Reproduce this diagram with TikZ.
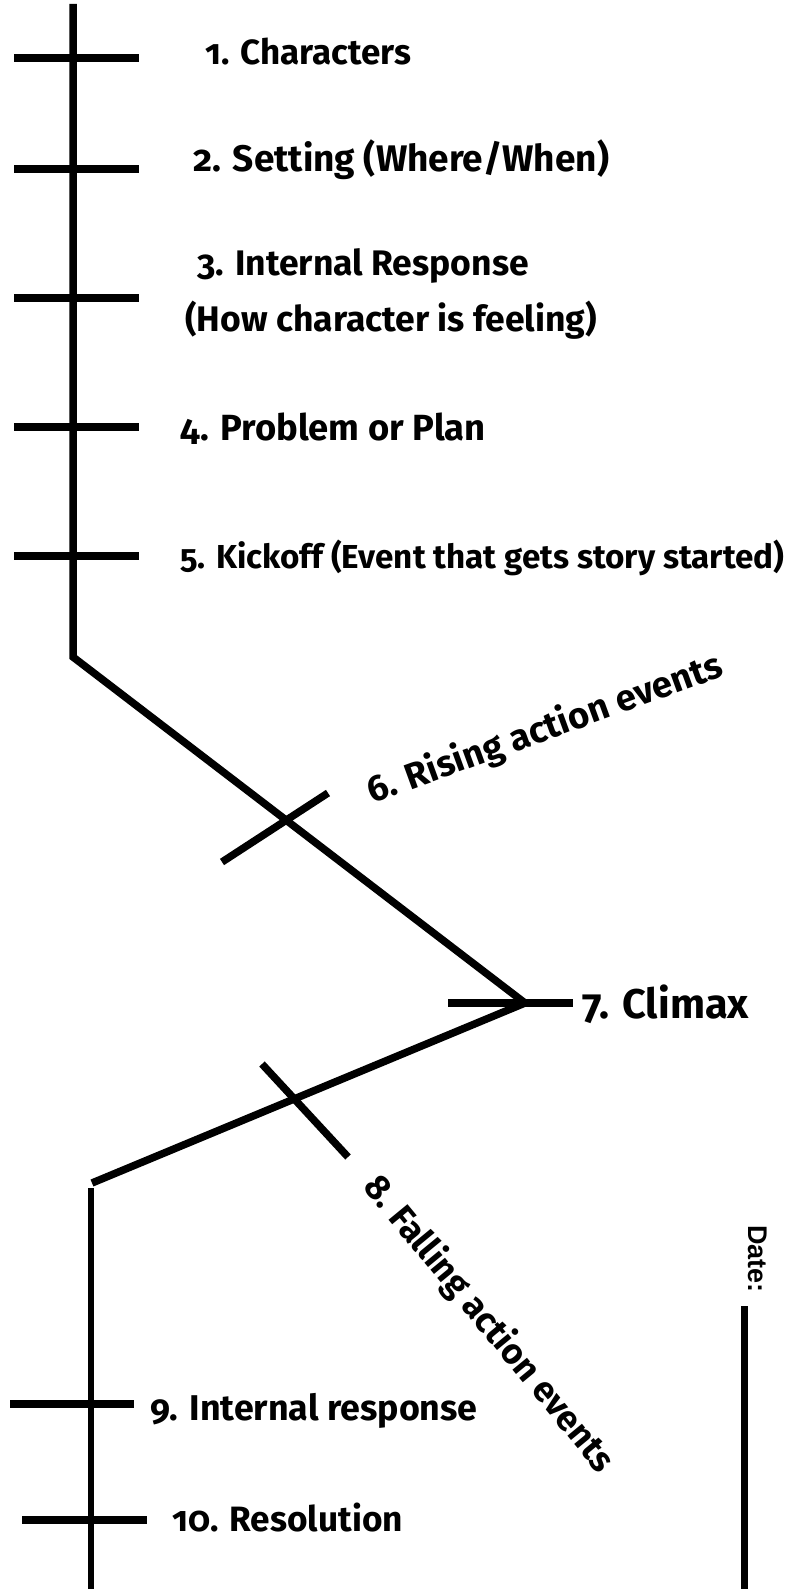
\documentclass[tikz,border=0pt]{standalone}
\usepackage{fontspec}
\newfontfamily\lblfont{Fira Sans}[Numbers=OldStyle]
\newfontfamily\datefont{Liberation Sans}
\begin{document}
\begin{tikzpicture}[x=1pt,y=-1pt,
  spine/.style={line width=7.5pt,line join=miter},
  tickmark/.style={line width=7.5pt},
  lbl/.style={anchor=base west,inner sep=0pt,font=\lblfont\bfseries}]
\useasboundingbox (0,0) rectangle (785,1589);
% plot line: exposition, rising action, climax, falling action
\coordinate (top) at (73,4);
\coordinate (bend) at (73,657);
\coordinate (peak) at (525,1003);
\coordinate (low) at (92,1183);
\coordinate (lowtop) at (91,1188);
\coordinate (bottom) at (91,1589);
\draw[spine] (top) -- (bend) -- (peak) -- (low);
\draw[line width=6.5pt] (lowtop) -- (bottom);
% tick marks
\coordinate (t1a) at (14,58);   \coordinate (t1b) at (139,58);
\coordinate (t2a) at (14,169);  \coordinate (t2b) at (139,169);
\coordinate (t3a) at (14,298);  \coordinate (t3b) at (139,298);
\coordinate (t4a) at (14,427);  \coordinate (t4b) at (139,427);
\coordinate (t5a) at (14,556);  \coordinate (t5b) at (139,556);
\coordinate (t6a) at (222,862); \coordinate (t6b) at (328,793);
\coordinate (t7a) at (448,1003);\coordinate (t7b) at (573,1003);
\coordinate (t8a) at (262,1064);\coordinate (t8b) at (348,1157);
\coordinate (t9a) at (10,1404); \coordinate (t9b) at (134,1404);
\coordinate (t10a) at (22,1520);\coordinate (t10b) at (147,1520);
\foreach \i in {1,...,10} \draw[tickmark] (t\i a) -- (t\i b);
% labels
\node[lbl,font=\lblfont\bfseries\fontsize{35}{35}\selectfont] (l1) at (205,65) {1. Characters};
\node[lbl,font=\lblfont\bfseries\fontsize{37}{37}\selectfont] (l2) at (193,172) {2. Setting (Where/When)};
\node[lbl,font=\lblfont\bfseries\fontsize{35.5}{35.5}\selectfont] (l3) at (197,275) {3. Internal Response};
\node[lbl,font=\lblfont\bfseries\fontsize{35.5}{35.5}\selectfont] (l3b) at (185,331) {(How character is feeling)};
\node[lbl,font=\lblfont\bfseries\fontsize{36.4}{36.4}\selectfont] (l4) at (180,440) {4. Problem or Plan};
\node[lbl,font=\lblfont\bfseries\fontsize{33.2}{33.2}\selectfont] (l5) at (180,568) {5. Kickoff (Event that gets story started)};
\node[lbl,font=\lblfont\bfseries\fontsize{36.5}{36.5}\selectfont,rotate=20] (l6) at (372,804) {6. Rising action events};
\node[lbl,font=\lblfont\bfseries\fontsize{41.5}{41.5}\selectfont] (l7) at (582,1018) {7. Climax};
\node[lbl,font=\lblfont\bfseries\fontsize{35.5}{35.5}\selectfont,rotate=-50.5] (l8) at (362,1187) {8. Falling action events};
\node[lbl,font=\lblfont\bfseries\fontsize{35.8}{35.8}\selectfont] (l9) at (150,1420) {9. Internal response};
\node[lbl,font=\lblfont\bfseries\fontsize{35.2}{35.2}\selectfont] (l10) at (172,1531) {10. Resolution};
% date field
\node[anchor=base west,inner sep=0pt,font=\datefont\bfseries\fontsize{27}{27}\selectfont,rotate=-90] (date) at (748,1225) {Date:};
\coordinate (d1) at (744,1306);
\coordinate (d2) at (744,1589);
\draw[line width=7pt] (d1) -- (d2);
\end{tikzpicture}
\end{document}
